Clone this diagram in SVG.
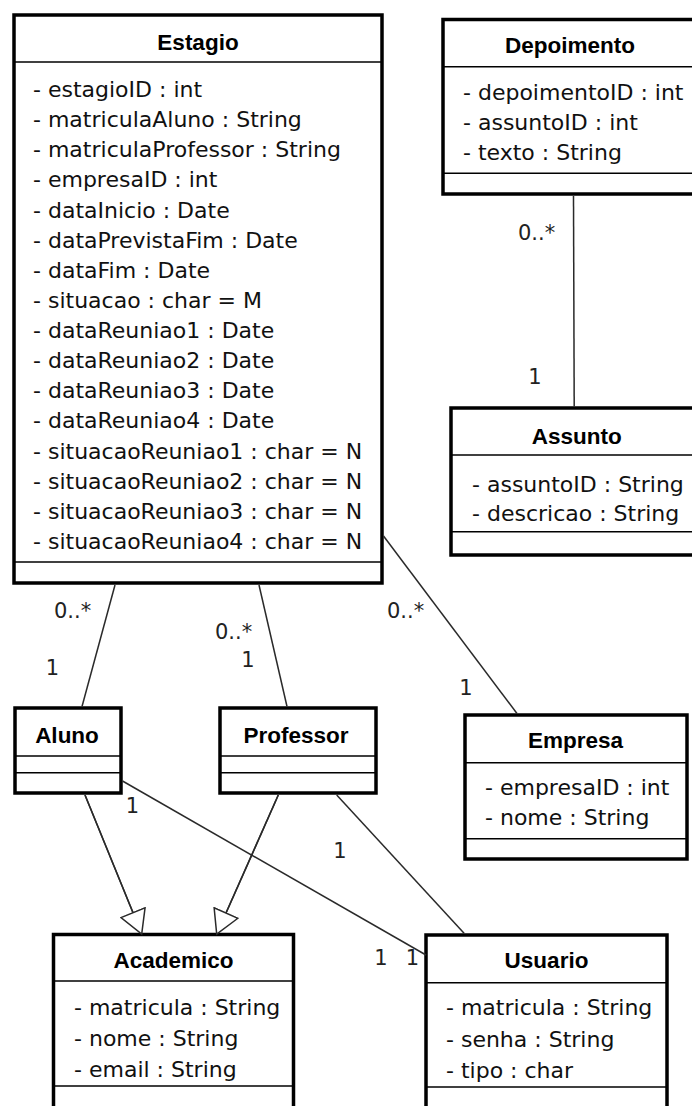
<svg xmlns="http://www.w3.org/2000/svg" width="692" height="1106" viewBox="0 0 692 1106">
<style>
.box{fill:#fff;stroke:#000;stroke-width:3.5}
.sep{stroke:#000;stroke-width:1.5}
.title{font-family:"Liberation Sans",Arial,sans-serif;font-weight:bold;font-size:22.5px;fill:#000;text-anchor:middle}
.attr{font-family:"DejaVu Sans",Verdana,sans-serif;font-size:22px;fill:#111}
.lbl{font-family:"DejaVu Sans",Verdana,sans-serif;font-size:21px;fill:#222}
.mid{text-anchor:middle}
.conn{stroke:#2a2a2a;stroke-width:1.5;fill:none}
</style>
<defs>
<marker id="gen" markerUnits="userSpaceOnUse" markerWidth="26" markerHeight="28" refX="24" refY="14" orient="auto">
<path d="M1,1 L24,14 L1,27 Z" fill="#fff" stroke="#2a2a2a" stroke-width="1.5"/>
</marker>
</defs>
<rect width="692" height="1106" fill="#fff"/>

<g id="Estagio">
<rect class="box" x="14" y="15" width="368" height="568"/>
<line class="sep" x1="14" y1="62" x2="382" y2="62"/>
<line class="sep" x1="14" y1="562" x2="382" y2="562"/>
<text class="title" x="198" y="50">Estagio</text>
<text class="attr" x="33" y="97">- estagioID : int</text>
<text class="attr" x="33" y="127.1">- matriculaAluno : String</text>
<text class="attr" x="33" y="157.3">- matriculaProfessor : String</text>
<text class="attr" x="33" y="187.4">- empresaID : int</text>
<text class="attr" x="33" y="217.5">- dataInicio : Date</text>
<text class="attr" x="33" y="247.7">- dataPrevistaFim : Date</text>
<text class="attr" x="33" y="277.8">- dataFim : Date</text>
<text class="attr" x="33" y="307.9">- situacao : char = M</text>
<text class="attr" x="33" y="338">- dataReuniao1 : Date</text>
<text class="attr" x="33" y="368.2">- dataReuniao2 : Date</text>
<text class="attr" x="33" y="398.3">- dataReuniao3 : Date</text>
<text class="attr" x="33" y="428.4">- dataReuniao4 : Date</text>
<text class="attr" x="33" y="458.6">- situacaoReuniao1 : char = N</text>
<text class="attr" x="33" y="488.7">- situacaoReuniao2 : char = N</text>
<text class="attr" x="33" y="518.8">- situacaoReuniao3 : char = N</text>
<text class="attr" x="33" y="549">- situacaoReuniao4 : char = N</text>
</g>

<g id="Depoimento">
<rect class="box" x="443" y="19.5" width="252" height="174.5"/>
<line class="sep" x1="443" y1="66.7" x2="695" y2="66.7"/>
<line class="sep" x1="443" y1="173.3" x2="695" y2="173.3"/>
<text class="title" x="570" y="53.3">Depoimento</text>
<text class="attr" x="463" y="99.5">- depoimentoID : int</text>
<text class="attr" x="463" y="130">- assuntoID : int</text>
<text class="attr" x="463" y="160">- texto : String</text>
</g>

<g id="Assunto">
<rect class="box" x="451" y="408" width="244" height="147"/>
<line class="sep" x1="451" y1="455" x2="695" y2="455"/>
<line class="sep" x1="451" y1="531.7" x2="695" y2="531.7"/>
<text class="title" x="576.7" y="444">Assunto</text>
<text class="attr" x="472" y="491.7">- assuntoID : String</text>
<text class="attr" x="472" y="520.7">- descricao : String</text>
</g>

<g id="Aluno">
<rect class="box" x="15" y="708" width="106" height="85"/>
<line class="sep" x1="15" y1="756" x2="121" y2="756"/>
<line class="sep" x1="15" y1="772.7" x2="121" y2="772.7"/>
<text class="title" x="67" y="742.7">Aluno</text>
</g>

<g id="Professor">
<rect class="box" x="220" y="708" width="156" height="85"/>
<line class="sep" x1="220" y1="756" x2="376" y2="756"/>
<line class="sep" x1="220" y1="772.7" x2="376" y2="772.7"/>
<text class="title" x="296" y="743">Professor</text>
</g>

<g id="Empresa">
<rect class="box" x="465" y="715" width="222" height="144"/>
<line class="sep" x1="465" y1="762.7" x2="687" y2="762.7"/>
<line class="sep" x1="465" y1="838.7" x2="687" y2="838.7"/>
<text class="title" x="575.5" y="748.3">Empresa</text>
<text class="attr" x="485" y="795">- empresaID : int</text>
<text class="attr" x="485" y="825">- nome : String</text>
</g>

<g id="Academico">
<rect class="box" x="53.5" y="934.5" width="240" height="200"/>
<line class="sep" x1="53.5" y1="981" x2="293.5" y2="981"/>
<line class="sep" x1="53.5" y1="1086" x2="293.5" y2="1086"/>
<text class="title" x="173.5" y="968.3">Academico</text>
<text class="attr" x="74" y="1014.5">- matricula : String</text>
<text class="attr" x="74" y="1045.5">- nome : String</text>
<text class="attr" x="74" y="1076.5">- email : String</text>
</g>

<g id="Usuario">
<rect class="box" x="426" y="935" width="241" height="200"/>
<line class="sep" x1="426" y1="982.7" x2="667" y2="982.7"/>
<line class="sep" x1="426" y1="1087" x2="667" y2="1087"/>
<text class="title" x="546.5" y="968.3">Usuario</text>
<text class="attr" x="446" y="1014.5">- matricula : String</text>
<text class="attr" x="446" y="1046.5">- senha : String</text>
<text class="attr" x="446" y="1077.5">- tipo : char</text>
</g>

<g id="connectors">
<line class="conn" x1="115" y1="585" x2="82" y2="706.5"/>
<line class="conn" x1="259" y1="585" x2="287" y2="706.5"/>
<line class="conn" x1="383.5" y1="536" x2="517" y2="713.5"/>
<line class="conn" x1="573.5" y1="196" x2="574.2" y2="406.5"/>
<line class="conn" x1="85" y1="795" x2="141.7" y2="934"/>
<line class="conn" x1="278.3" y1="795" x2="216.7" y2="934"/>
<line class="conn" x1="122.5" y1="781" x2="426" y2="955"/>
<line class="conn" x1="336.7" y1="795" x2="464.3" y2="933.5"/>
<line class="conn" x1="85" y1="795" x2="141.7" y2="934" marker-end="url(#gen)" stroke="none"/>
<line class="conn" x1="278.3" y1="795" x2="216.7" y2="934" marker-end="url(#gen)" stroke="none"/>
<text class="lbl" x="54" y="618">0..*</text>
<text class="lbl mid" x="52.5" y="675">1</text>
<text class="lbl" x="215" y="639">0..*</text>
<text class="lbl mid" x="248" y="667">1</text>
<text class="lbl" x="387" y="618">0..*</text>
<text class="lbl mid" x="466" y="695">1</text>
<text class="lbl" x="518" y="240">0..*</text>
<text class="lbl mid" x="535" y="384">1</text>
<text class="lbl mid" x="132.5" y="813">1</text>
<text class="lbl mid" x="340" y="858">1</text>
<text class="lbl mid" x="381" y="965">1</text>
<text class="lbl mid" x="412.5" y="965">1</text>
</g>
</svg>
